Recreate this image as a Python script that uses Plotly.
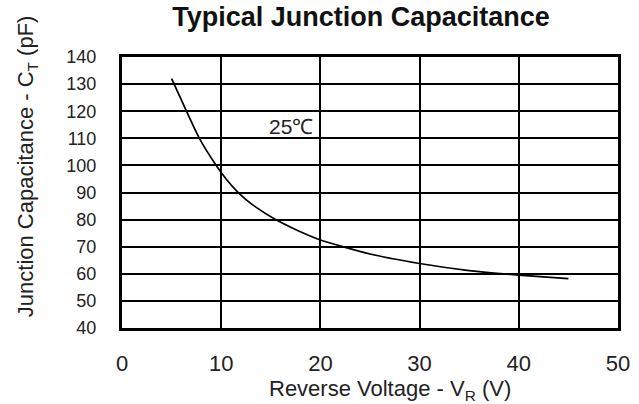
import plotly.graph_objects as go

# Data
voltage = [5, 6.5, 7.8, 9.5, 10.5, 11.5, 12.5, 13.5, 15.3, 17.7, 20, 25, 30, 35, 40, 45]
capacitance = [132, 120, 110, 100, 95, 90.8, 87.4, 84.6, 80.4, 76, 72.5, 67.3, 63.8, 61.2, 59.5, 58.2]
x_ticks = [0, 10, 20, 30, 40, 50]
y_ticks = [40, 50, 60, 70, 80, 90, 100, 110, 120, 130, 140]
title_text = "<b>Typical Junction Capacitance</b>"
x_title = "Reverse Voltage - V<sub>R</sub> (V)"
y_title = "Junction Capacitance - C<sub>T</sub> (pF)"
temp_label = "25℃"
temp_pos = (17.0, 114.2)

FONT = "Liberation Sans, Arial, sans-serif"
W, H = 639, 404

fig = go.Figure()
fig.add_trace(go.Scatter(
    x=voltage, y=capacitance, mode="lines",
    line=dict(color="black", width=1.7, shape="spline", smoothing=0.6),
    hoverinfo="skip", showlegend=False,
))

fig.add_annotation(
    x=temp_pos[0], y=temp_pos[1], text=temp_label, showarrow=False,
    font=dict(family=FONT, size=21, color="#222"),
)

# axis titles as annotations (both sit off-centre in the reference)
fig.add_annotation(
    xref="paper", yref="paper", x=-0.191, y=0.598, text=y_title, textangle=-90,
    showarrow=False, xanchor="center", yanchor="middle",
    font=dict(family=FONT, size=22, color="#222"),
)
fig.add_annotation(
    xref="paper", yref="paper", x=0.540, y=-0.229, text=x_title,
    showarrow=False, xanchor="center", yanchor="middle",
    font=dict(family=FONT, size=22, color="#222"),
)

fig.update_layout(
    width=W, height=H,
    margin=dict(l=122, r=21, t=57, b=76),
    paper_bgcolor="white", plot_bgcolor="white",
    font=dict(family=FONT, color="#222"),
    title=dict(text=title_text, xref="container", x=361 / W, xanchor="center",
               yref="container", y=1 - 17 / H, yanchor="middle",
               font=dict(family=FONT, size=27, color="#111")),
)

fig.update_xaxes(
    range=[0, 50], tickvals=x_ticks, ticktext=[str(v) for v in x_ticks],
    showgrid=True, gridcolor="black", gridwidth=2,
    showline=True, linecolor="black", linewidth=3, mirror=True,
    zeroline=False, ticks="", ticklabelstandoff=14, automargin=False,
    tickfont=dict(family=FONT, size=22, color="#222"),
)
fig.update_yaxes(
    range=[40, 140], tickvals=y_ticks, ticktext=[str(v) for v in y_ticks],
    showgrid=True, gridcolor="black", gridwidth=2,
    showline=True, linecolor="black", linewidth=3, mirror=True,
    zeroline=False, ticks="", ticklabelstandoff=19, automargin=False,
    tickfont=dict(family=FONT, size=18, color="#222"),
)

fig.write_html("out.html", config={"displayModeBar": False, "staticPlot": True},
               post_script="document.body.style.margin='0';")
